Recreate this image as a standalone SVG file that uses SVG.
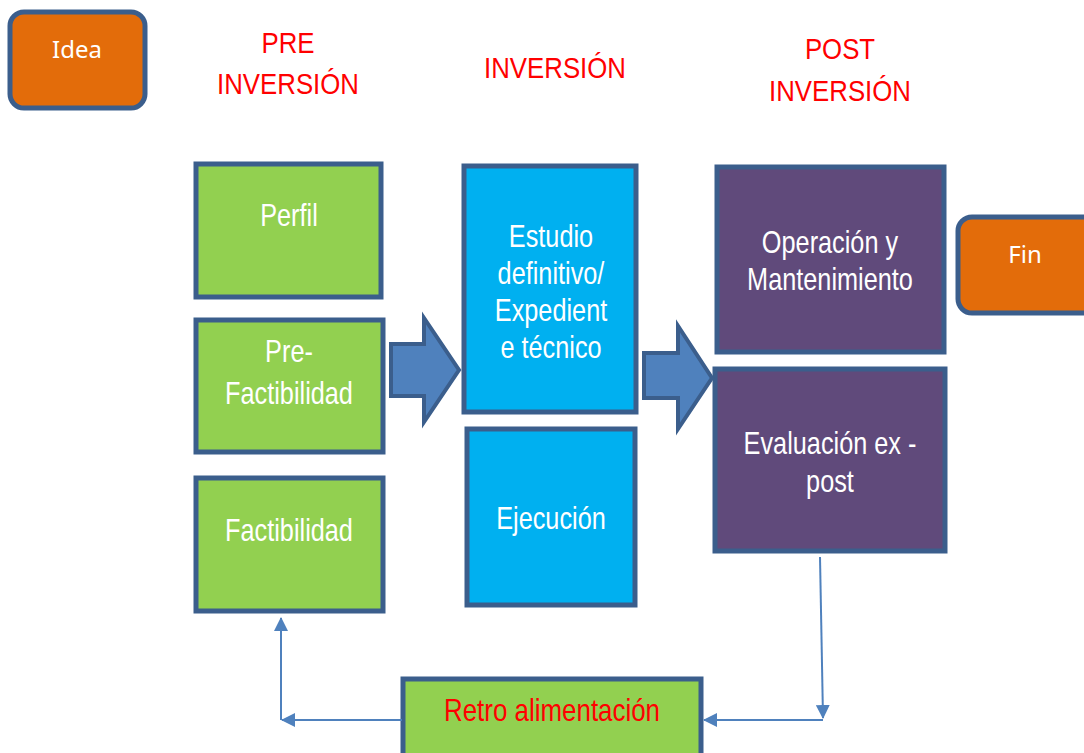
<svg xmlns="http://www.w3.org/2000/svg" width="1084" height="753" viewBox="0 0 1084 753">
<style>
.box{stroke:#3b5e8c;stroke-width:5}
.g{fill:#92d050}.b{fill:#00b0f0}.p{fill:#604a7b}.o{fill:#e36c0a}
.t{font-family:"Liberation Sans",Arial,sans-serif;font-size:32px;fill:#fff;text-anchor:middle}
.c{font-family:"Noto Sans","Open Sans",sans-serif;font-size:24px;fill:#fff;text-anchor:middle}
.h{font-family:"Liberation Sans",Arial,sans-serif;font-size:30px;fill:#ff0000;text-anchor:middle}
.r{font-family:"Liberation Sans",Arial,sans-serif;font-size:32px;fill:#ff0000;text-anchor:middle}
.ba{fill:#4f81bd;stroke:#3b5e8c;stroke-width:4;stroke-linejoin:miter}
.ln{fill:none;stroke:#4f81bd;stroke-width:2}
</style>
<defs>
<marker id="ah2" markerWidth="14" markerHeight="14" refX="13" refY="7" orient="auto" markerUnits="userSpaceOnUse" viewBox="0 0 14 14">
<path d="M0,0 L14,7 L0,14 z" fill="#4f81bd"/>
</marker>
</defs>
<rect width="1084" height="753" fill="#fff"/>
<g id="headers">
<text class="h" transform="matrix(0.86,0,0,1,288,53)">PRE</text>
<text class="h" transform="matrix(0.86,0,0,1,288,94)">INVERSIÓN</text>
<text class="h" transform="matrix(0.86,0,0,1,555,78)">INVERSIÓN</text>
<text class="h" transform="matrix(0.86,0,0,1,840,59)">POST</text>
<text class="h" transform="matrix(0.86,0,0,1,840,101)">INVERSIÓN</text>
</g>
<g id="idea"><rect class="box o" x="10" y="12" width="135" height="96" rx="14"/><text class="c" x="77" y="58">Idea</text></g>
<g id="fin"><rect class="box o" x="958" y="217" width="140" height="96" rx="14"/><text class="c" x="1025" y="263">Fin</text></g>
<g id="perfil"><rect class="box g" x="196" y="164" width="185" height="133"/><text class="t" transform="matrix(0.79,0,0,1,289,226)">Perfil</text></g>
<g id="prefactibilidad"><rect class="box g" x="196" y="320" width="187" height="132"/><text class="t" transform="matrix(0.79,0,0,1,289,362)">Pre-</text><text class="t" transform="matrix(0.79,0,0,1,289,404)">Factibilidad</text></g>
<g id="factibilidad"><rect class="box g" x="196" y="478" width="187" height="133"/><text class="t" transform="matrix(0.79,0,0,1,289,541)">Factibilidad</text></g>
<g id="estudio"><rect class="box b" x="464" y="166" width="172" height="246"/>
<text class="t" transform="matrix(0.79,0,0,1,551,247)">Estudio</text><text class="t" transform="matrix(0.79,0,0,1,551,284)">definitivo/</text><text class="t" transform="matrix(0.79,0,0,1,551,321)">Expedient</text><text class="t" transform="matrix(0.79,0,0,1,551,358)">e técnico</text></g>
<g id="ejecucion"><rect class="box b" x="467" y="429" width="168" height="176"/><text class="t" transform="matrix(0.79,0,0,1,551,529)">Ejecución</text></g>
<g id="operacion"><rect class="box p" x="717" y="167" width="227" height="185"/><text class="t" transform="matrix(0.79,0,0,1,830,253)">Operación y</text><text class="t" transform="matrix(0.79,0,0,1,830,290)">Mantenimiento</text></g>
<g id="evaluacion"><rect class="box p" x="715" y="369" width="230" height="182"/><text class="t" transform="matrix(0.79,0,0,1,830,454)">Evaluación ex -</text><text class="t" transform="matrix(0.79,0,0,1,830,492)">post</text></g>
<g id="retro"><rect class="box g" x="403" y="679" width="298" height="80"/><text class="r" transform="matrix(0.81,0,0,1,552,721)">Retro alimentación</text></g>
<g id="connectors">
<path class="ba" d="M391,344 L424,344 L424,318 L459,370 L424,422 L424,396 L391,396 Z"/>
<path class="ba" d="M644,353 L678,353 L678,326 L712,378 L678,429 L678,398 L644,398 Z"/>
<path class="ln" d="M820,557 L823,718" marker-end="url(#ah2)"/>
<path class="ln" d="M823,720 L704,720" marker-end="url(#ah2)"/>
<path class="ln" d="M402,720 L282,720" marker-end="url(#ah2)"/>
<path class="ln" d="M281,720 L281,618" marker-end="url(#ah2)"/>
</g>
</svg>
